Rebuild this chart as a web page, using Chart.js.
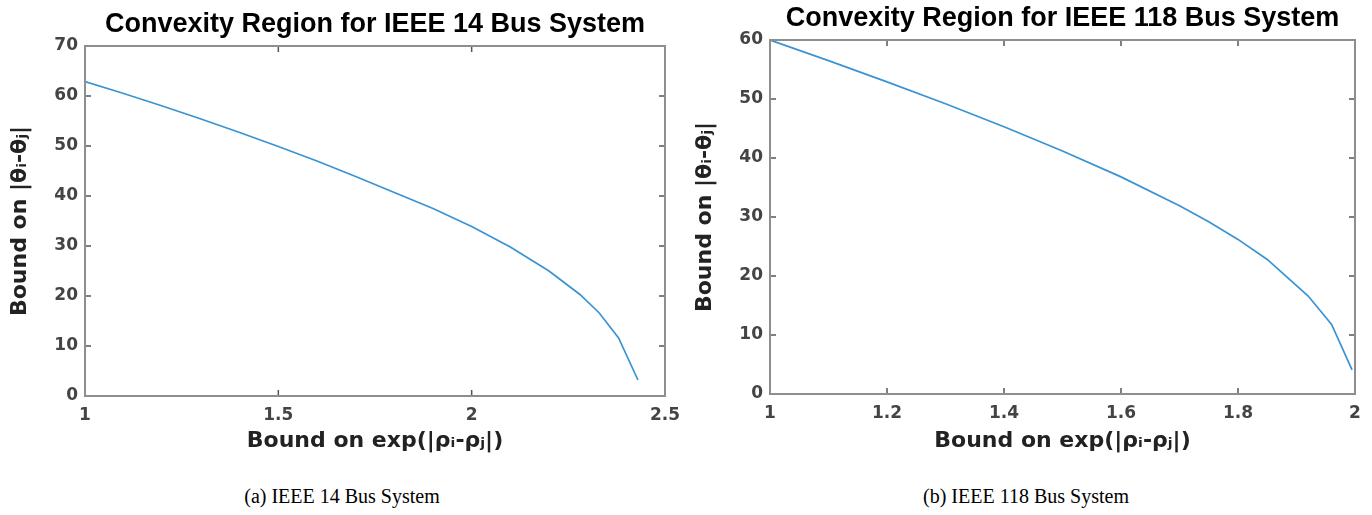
<!DOCTYPE html>
<html><head><meta charset="utf-8">
<script src="https://cdn.jsdelivr.net/npm/chart.js@4/dist/chart.umd.min.js"></script>
<style>
html,body{margin:0;padding:0;background:#fff;width:1372px;height:515px;overflow:hidden;}
#c1{position:absolute;left:0;top:0;}
#c2{position:absolute;left:690px;top:0;}
.cap{position:absolute;top:485px;font-family:"Liberation Serif","Times New Roman",serif;font-size:20px;line-height:22px;color:#000;white-space:nowrap;transform:translateX(-50%);}
</style></head><body>
<canvas id="c1" width="690" height="470"></canvas>
<canvas id="c2" width="682" height="470"></canvas>
<div class="cap" style="left:342px">(a) IEEE 14 Bus System</div>
<div class="cap" style="left:1026px">(b) IEEE 118 Bus System</div>
<script>
// ---- data ----
const expBound14   = [1.0, 1.1, 1.2, 1.3, 1.4, 1.5, 1.6, 1.7, 1.8, 1.9, 2.0, 2.1, 2.2, 2.28, 2.33, 2.38, 2.43];
const thetaBound14 = [62.9, 60.5, 58.0, 55.4, 52.7, 49.9, 47.0, 43.9, 40.7, 37.5, 33.9, 29.8, 25.0, 20.3, 16.6, 11.6, 3.2];
const expBound118   = [1.0, 1.1, 1.2, 1.3, 1.4, 1.5, 1.6, 1.7, 1.75, 1.8, 1.85, 1.92, 1.96, 1.995];
const thetaBound118 = [60.0, 56.5, 52.9, 49.2, 45.3, 41.2, 36.8, 31.9, 29.2, 26.2, 22.8, 16.6, 11.8, 4.1];
const xTicks14  = [1, 1.5, 2, 2.5];
const yTicks14  = [0, 10, 20, 30, 40, 50, 60, 70];
const xTicks118 = [1, 1.2, 1.4, 1.6, 1.8, 2];
const yTicks118 = [0, 10, 20, 30, 40, 50, 60];
const title14  = 'Convexity Region for IEEE 14 Bus System';
const title118 = 'Convexity Region for IEEE 118 Bus System';
const xLabel = 'Bound on exp(|\u03C1\u1D62-\u03C1\u2C7C|)';
const yLabel = 'Bound on |\u03B8\u1D62-\u03B8\u2C7C|';

const boxPlugin = {
  id: 'matlabBox',
  afterDatasetsDraw(chart) {
    const {ctx, chartArea: a, scales: {x, y}} = chart;
    const L = 6;
    ctx.save();
    ctx.strokeStyle = '#555';
    ctx.lineWidth = 1.5;
    ctx.beginPath();
    x.ticks.forEach(t => {
      const px = x.getPixelForValue(t.value);
      if (px <= a.left + 1 || px >= a.right - 1) return;
      ctx.moveTo(px, a.bottom); ctx.lineTo(px, a.bottom - L);
      ctx.moveTo(px, a.top); ctx.lineTo(px, a.top + L);
    });
    y.ticks.forEach(t => {
      const py = y.getPixelForValue(t.value);
      if (py <= a.top + 1 || py >= a.bottom - 1) return;
      ctx.moveTo(a.left, py); ctx.lineTo(a.left + L, py);
      ctx.moveTo(a.right, py); ctx.lineTo(a.right - L, py);
    });
    ctx.stroke();
    ctx.strokeStyle = '#8e8e8e';
    ctx.lineWidth = 2;
    ctx.strokeRect(a.left, a.top, a.width, a.height);
    ctx.restore();
  }
};

function makeChart(id, xs, ys, xt, yt, title, cfg) {
  const pts = xs.map((v, i) => ({x: v, y: ys[i]}));
  const tickFont = {family: '"DejaVu Sans", sans-serif', size: 17, weight: 'bold'};
  return new Chart(document.getElementById(id), {
    type: 'scatter',
    data: {datasets: [{data: pts, showLine: true, borderColor: '#3a93d3', borderWidth: 1.7,
      pointRadius: 0, pointHoverRadius: 0, fill: false, tension: 0}]},
    options: {
      responsive: false, animation: false, devicePixelRatio: 1,
      layout: {padding: {left: 0, right: cfg.padRight, top: 0, bottom: 0}},
      plugins: {
        legend: {display: false}, tooltip: {enabled: false},
        title: {display: true, text: title, fullSize: false, color: '#000',
          font: {family: '"Liberation Sans", Arial, sans-serif', size: 27, weight: 'bold', lineHeight: 1.2},
          padding: {top: cfg.titleTop, bottom: cfg.titleBottom}}
      },
      scales: {
        x: {
          type: 'linear', min: xt[0], max: xt[xt.length - 1],
          afterBuildTicks: s => { s.ticks = xt.map(v => ({value: v})); },
          afterFit: s => { s.height = cfg.xH; },
          grid: {display: false, drawTicks: false}, border: {display: false},
          ticks: {color: '#444', padding: cfg.xTickPad, maxRotation: 0, autoSkip: false,
            font: tickFont, callback: v => String(v)},
          title: {display: true, text: xLabel, color: '#222',
            font: {family: '"DejaVu Sans", sans-serif', size: 22, weight: 'bold', lineHeight: 1.2},
            padding: {top: 0, bottom: cfg.xTitlePad}}
        },
        y: {
          type: 'linear', min: yt[0], max: yt[yt.length - 1],
          afterBuildTicks: s => { s.ticks = yt.map(v => ({value: v})); },
          afterFit: s => { s.width = cfg.yW; },
          grid: {display: false, drawTicks: false}, border: {display: false},
          ticks: {color: '#444', padding: 7, autoSkip: false,
            font: tickFont, callback: v => String(v)},
          title: {display: true, text: yLabel, color: '#222',
            font: {family: '"DejaVu Sans", sans-serif', size: 22, weight: 'bold', lineHeight: 1.2},
            padding: {top: cfg.yTitlePad, bottom: 0}}
        }
      }
    },
    plugins: [boxPlugin]
  });
}

makeChart('c1', expBound14, thetaBound14, xTicks14, yTicks14, title14,
  {padRight: 25, titleTop: 8.4, titleBottom: 5.2, xH: 74, yW: 85, xTickPad: 9, xTitlePad: 16, yTitlePad: 7});
makeChart('c2', expBound118, thetaBound118, xTicks118, yTicks118, title118,
  {padRight: 17, titleTop: 2.4, titleBottom: 5.2, xH: 76, yW: 80, xTickPad: 9, xTitlePad: 16, yTitlePad: 2});
</script>
</body></html>
